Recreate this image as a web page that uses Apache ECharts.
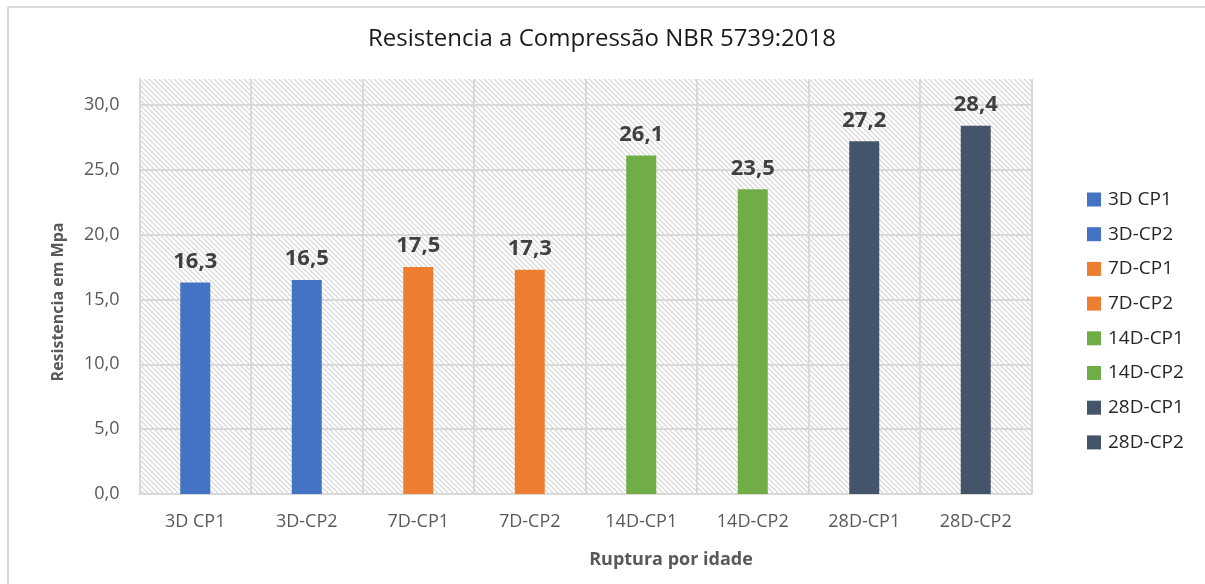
<!DOCTYPE html>
<html>
<head>
<meta charset="utf-8">
<script src="https://cdn.jsdelivr.net/npm/echarts@6/dist/echarts.min.js"></script>
<style>
html,body{margin:0;padding:0;background:#fff;}
#chart{width:1205px;height:584px;}
</style>
</head>
<body>
<div id="chart"></div>
<script>
const categories = ['3D CP1','3D-CP2','7D-CP1','7D-CP2','14D-CP1','14D-CP2','28D-CP1','28D-CP2'];
const values = [16.3, 16.5, 17.5, 17.3, 26.1, 23.5, 27.2, 28.4];
const yTicks = [0, 5, 10, 15, 20, 25, 30];
const barColors = ['#4472C4','#4472C4','#ED7D31','#ED7D31','#70AD47','#70AD47','#44546A','#44546A'];

// hatch pattern for plot background
const pc = document.createElement('canvas');
pc.width = 5; pc.height = 5;
const ctx = pc.getContext('2d');
ctx.fillStyle = '#ffffff';
ctx.fillRect(0,0,5,5);
ctx.strokeStyle = '#d4d4d4';
ctx.lineWidth = 1.2;
ctx.beginPath();
ctx.moveTo(-1,-1); ctx.lineTo(6,6);
ctx.moveTo(-6,-1); ctx.lineTo(1,6);
ctx.moveTo(4,-1); ctx.lineTo(11,6);
ctx.stroke();

const fmt = v => Number(v).toFixed(1).replace('.', ',');

const series = categories.map((name, i) => ({
  name: name,
  type: 'bar',
  stack: 'all',
  barWidth: 30,
  itemStyle: { color: barColors[i] },
  data: categories.map((c, j) => j === i ? values[i] : '-'),
  label: {
    show: true,
    position: 'top',
    distance: 10,
    formatter: p => fmt(p.value),
    color: '#404040',
    fontSize: 22,
    fontWeight: 'bold',
    fontFamily: 'Open Sans'
  }
}));

const chart = echarts.init(document.getElementById('chart'), null, {renderer: 'canvas'});
chart.setOption({
  animation: false,
  backgroundColor: '#ffffff',
  title: [{
    text: 'Resistencia a Compressão NBR 5739:2018',
    left: 597, top: 22, textAlign: 'center',
    textStyle: { fontFamily: 'Open Sans', fontSize: 24, fontWeight: 'normal', color: '#1a1a1a' }
  }, {
    text: 'Ruptura por idade',
    left: 666, top: 546, textAlign: 'center',
    textStyle: { fontFamily: 'Open Sans', fontSize: 18, fontWeight: 'bold', color: '#595959' }
  }],
  legend: {
    orient: 'vertical',
    left: 1087, top: 190, padding: 0,
    itemWidth: 14, itemHeight: 14, itemGap: 15.7,
    icon: 'rect',
    data: categories,
    textStyle: { fontFamily: 'Open Sans', fontSize: 19, color: '#262626', padding: [0,0,0,2] }
  },
  grid: {
    left: 139.5, right: 173.5, top: 79, bottom: 90,
    show: true, borderWidth: 0,
    backgroundColor: { image: pc, repeat: 'repeat' }
  },
  xAxis: {
    type: 'category',
    data: categories,
    axisLine: { show: true, lineStyle: { color: '#d9d9d9', width: 2 } },
    axisTick: { show: false },
    splitLine: { show: true, interval: 0, lineStyle: { color: '#d9d9d9', width: 2 } },
    axisLabel: { interval: 0, margin: 19, fontFamily: 'Open Sans', fontSize: 18, color: '#595959' }
  },
  yAxis: {
    type: 'value',
    min: 0, max: 32, interval: 5,
    axisLine: { show: true, lineStyle: { color: '#d9d9d9', width: 2 } },
    axisTick: { show: false },
    splitLine: { show: true, lineStyle: { color: ['#d9d9d9','#d9d9d9','#d9d9d9','#d9d9d9','#d9d9d9','#d9d9d9','#d9d9d9','rgba(0,0,0,0)'], width: 2 } },
    axisLabel: {
      margin: 20, fontFamily: 'Open Sans', fontSize: 18, color: '#595959',
      formatter: v => yTicks.indexOf(v) >= 0 ? fmt(v) : ''
    }
  },
  graphic: [
    { type: 'line', shape: { x1: 8, y1: 7, x2: 1205, y2: 7 }, style: { stroke: '#d9d9d9', lineWidth: 2 } },
    { type: 'line', shape: { x1: 8, y1: 7, x2: 8, y2: 584 }, style: { stroke: '#d9d9d9', lineWidth: 2 } },
    { type: 'text', x: 58, y: 302, rotation: Math.PI / 2,
      style: { text: 'Resistencia em Mpa', fill: '#595959', font: 'bold 16px "Open Sans"', align: 'center', verticalAlign: 'middle' } }
  ],
  series: series
});
</script>
</body>
</html>
